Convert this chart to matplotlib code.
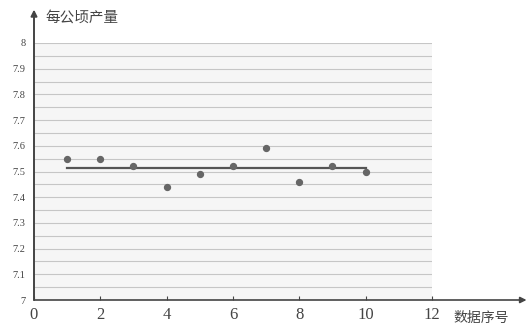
import numpy as np
import matplotlib
matplotlib.use("Agg")
import matplotlib.pyplot as plt

# data
seq = [1, 2, 3, 4, 5, 6, 7, 8, 9, 10]
yield_per_ha = [7.55, 7.55, 7.52, 7.44, 7.49, 7.52, 7.59, 7.46, 7.52, 7.50]
x_ticks = [0, 2, 4, 6, 8, 10, 12]
y_ticks = [7, 7.1, 7.2, 7.3, 7.4, 7.5, 7.6, 7.7, 7.8, 7.9, 8]
y_tick_labels = ["7", "7.1", "7.2", "7.3", "7.4", "7.5", "7.6", "7.7", "7.8", "7.9", "8"]

mean_val = np.mean(yield_per_ha)

fig = plt.figure(figsize=(5.28, 3.3), dpi=100)
ax = fig.add_axes([34 / 528, 30 / 330, 398 / 528, 257 / 330])
ax.set_xlim(0, 12)
ax.set_ylim(7, 8)
ax.set_facecolor("#f6f6f6")

# faint horizontal rules of the scan
for g in np.arange(7.05, 8.0, 0.05):
    ax.axhline(g, color="#c6c6c6", lw=0.8, zorder=1)

for s in ax.spines.values():
    s.set_visible(False)

# mean line and points
ax.plot([seq[0], seq[-1]], [mean_val, mean_val], color="#555555", lw=1.6, zorder=3)
ax.scatter(seq, yield_per_ha, s=18, color="#666666", zorder=4)

# axes with arrows
ax.annotate("", xy=(0, 8.13), xytext=(0, 7), xycoords="data",
            arrowprops=dict(arrowstyle="-|>", color="#444444", lw=1.4,
                            mutation_scale=9, shrinkA=0, shrinkB=0),
            annotation_clip=False)
ax.annotate("", xy=(14.85, 7), xytext=(0, 7), xycoords="data",
            arrowprops=dict(arrowstyle="-|>", color="#444444", lw=1.2,
                            mutation_scale=9, shrinkA=0, shrinkB=0),
            annotation_clip=False)

ax.set_xticks(x_ticks)
ax.set_xticklabels([str(t) for t in x_ticks], fontsize=12,
                   family="Liberation Serif", color="#444444")
ax.tick_params(axis="x", direction="in", length=3, color="#444444", pad=5)
ax.set_yticks(y_ticks)
ax.set_yticklabels(y_tick_labels, fontsize=7.5,
                   family="Liberation Serif", color="#444444")
ax.tick_params(axis="y", length=0, pad=6)

fig.text(45 / 528, 1 - 18 / 330, "每公顷产量", fontsize=10.5,
         family=["Noto Sans CJK SC", "DejaVu Sans"], color="#444444",
         va="center", ha="left")
fig.text(453 / 528, 1 - 318 / 330, "数据序号", fontsize=10,
         family=["Noto Sans CJK SC", "DejaVu Sans"], color="#444444",
         va="center", ha="left")

fig.savefig("out.png", dpi=100)
